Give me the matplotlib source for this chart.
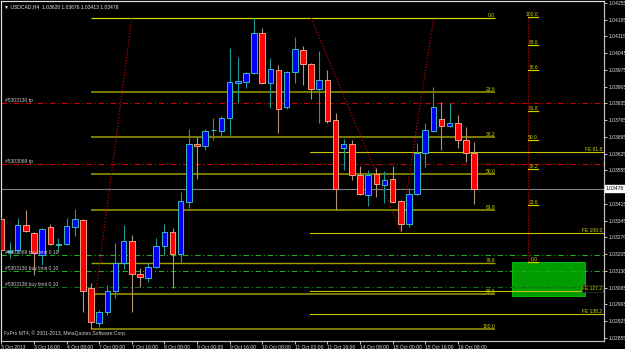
import matplotlib
matplotlib.use("Agg")
import matplotlib.pyplot as plt
from matplotlib.patches import Rectangle

# ---------------- data ----------------
symbol = "USDCAD,H4"
opens = [1.03352, 1.03214, 1.03223, 1.03327, 1.03294, 1.03202, 1.03319, 1.03245, 1.03248, 1.03319,
         1.03348, 1.03064, 1.02917, 1.02963, 1.03051, 1.03168, 1.03260, 1.03122, 1.03105, 1.03151,
         1.03239, 1.03298, 1.03206, 1.03423, 1.03666, 1.03657, 1.03722, 1.03720, 1.03774, 1.03921,
         1.03925, 1.03962, 1.04130, 1.03921, 1.03975, 1.03820, 1.03967, 1.04059, 1.04000, 1.03896,
         1.03933, 1.03766, 1.03649, 1.03666, 1.03536, 1.03452, 1.03540, 1.03494, 1.03519, 1.03427,
         1.03331, 1.03457, 1.03628, 1.03720, 1.03770, 1.03741, 1.03753, 1.03682, 1.03628]
highs = [1.03360, 1.03256, 1.03356, 1.03390, 1.03298, 1.03315, 1.03331, 1.03273, 1.03356, 1.03394,
         1.03352, 1.03085, 1.02972, 1.03076, 1.03252, 1.03327, 1.03285, 1.03147, 1.03168, 1.03273,
         1.03331, 1.03315, 1.03465, 1.03728, 1.03695, 1.03728, 1.03774, 1.03783, 1.04067, 1.04029,
         1.03967, 1.04191, 1.04150, 1.04025, 1.03996, 1.03971, 1.04113, 1.04075, 1.04004, 1.04054,
         1.03975, 1.03795, 1.03686, 1.03682, 1.03574, 1.03557, 1.03565, 1.03553, 1.03574, 1.03432,
         1.03482, 1.03670, 1.03753, 1.03904, 1.03841, 1.03837, 1.03787, 1.03737, 1.03676]
lows = [1.03214, 1.03189, 1.03210, 1.03298, 1.03118, 1.03160, 1.03243, 1.03214, 1.03243, 1.03281,
        1.02963, 1.02892, 1.02901, 1.02951, 1.03022, 1.03143, 1.02963, 1.03068, 1.03089, 1.03147,
        1.03202, 1.03064, 1.03168, 1.03398, 1.03519, 1.03641, 1.03682, 1.03695, 1.03703, 1.03837,
        1.03900, 1.03958, 1.03916, 1.03816, 1.03712, 1.03812, 1.03921, 1.03912, 1.03854, 1.03753,
        1.03753, 1.03390, 1.03557, 1.03515, 1.03452, 1.03406, 1.03444, 1.03419, 1.03419, 1.03302,
        1.03319, 1.03452, 1.03569, 1.03716, 1.03641, 1.03737, 1.03649, 1.03590, 1.03413]
closes = [1.03223, 1.03218, 1.03327, 1.03302, 1.03210, 1.03310, 1.03248, 1.03248, 1.03323, 1.03352,
          1.03051, 1.02922, 1.02963, 1.03051, 1.03168, 1.03260, 1.03122, 1.03110, 1.03151, 1.03239,
          1.03298, 1.03206, 1.03427, 1.03666, 1.03657, 1.03720, 1.03724, 1.03774, 1.03925, 1.03929,
          1.03962, 1.04130, 1.03921, 1.03979, 1.03812, 1.03967, 1.04063, 1.04000, 1.03896, 1.03933,
          1.03762, 1.03478, 1.03666, 1.03536, 1.03457, 1.03536, 1.03498, 1.03515, 1.03423, 1.03331,
          1.03457, 1.03628, 1.03724, 1.03820, 1.03741, 1.03753, 1.03682, 1.03628, 1.03478]

xtick_bars = [0, 4, 8, 12, 16, 20, 24, 28, 32, 36, 40, 44, 48, 52, 56]
xtick_labels = ["3 Oct 2013", "3 Oct 16:00", "4 Oct 08:00", "7 Oct 00:00", "7 Oct 16:00",
                "8 Oct 08:00", "9 Oct 00:00", "9 Oct 16:00", "10 Oct 08:00", "11 Oct 00:00",
                "11 Oct 16:00", "14 Oct 08:00", "15 Oct 00:00", "15 Oct 16:00", "16 Oct 08:00"]
ytick_prices = [1.04255, 1.04185, 1.04115, 1.04045, 1.03975, 1.03905, 1.03835, 1.03765,
                1.03695, 1.03625, 1.03555, 1.03415, 1.03345, 1.03276, 1.03205, 1.03136,
                1.03065, 1.02995, 1.02925, 1.02855]
bid = 1.03478

# Fibonacci retracement
fib_low, fib_high = 1.02892, 1.04191
fib_levels = [0.0, 23.6, 38.2, 50.0, 61.8, 78.6, 88.6, 100.0]
fib_bars = [11, 16]
# Fibonacci expansion (A, B, C)
fe_prices = [1.04192, 1.03302, 1.04184]
fe_bars = [38, 49, 53]
fe_levels = [61.8, 100.0, 127.2, 138.2]
# vertical fibonacci
vfib_zero, vfib_hundred = 1.03171, 1.04195
# order lines
tp_prices = [1.03835, 1.03582]
tp_labels = ["#5303130 tp", "#5303069 tp"]
limit_prices = [1.03200, 1.03134, 1.03069]
limit_labels = ["#5301069 buy limit 0.10", "#5303130 buy limit 0.10", "#5303138 buy limit 0.10"]
zone_low, zone_high = 1.03030, 1.03172

# ---------------- figure ----------------
W, H = 625, 349
fig = plt.figure(figsize=(W / 100, H / 100), dpi=100, facecolor="black")
ax = fig.add_axes([1 / W, 8 / H, 603 / W, 340 / H], facecolor="black")
ax.set_xlim(-0.049, 73.94)
ax.set_ylim(1.028421, 1.042633)

FONT = ["Liberation Sans", "DejaVu Sans"]
FS = 3.6
px = 0.72  # one pixel in points

# zone rectangle
ax.add_patch(Rectangle((62.65, zone_low), 71.6 - 62.65, zone_high - zone_low,
                       facecolor="#009c00", edgecolor="#00b800", lw=px, zorder=1))

# order lines
dashdot = (0, (5, 2.5, 1, 2.5))
for p, lab in zip(tp_prices, tp_labels):
    ax.axhline(p, color="#c80000", lw=px * 1.1, ls=dashdot, zorder=2)
    ax.text(4 / 603, p, lab, transform=ax.get_yaxis_transform(), color="#c8c8c8",
            fontsize=FS, family=FONT, va="bottom", ha="left", zorder=6)
limit_colors = ["#22aa22", "#22aa22", "#137013"]
for p, lab, c in zip(limit_prices, limit_labels, limit_colors):
    ax.axhline(p, color=c, lw=px * 1.1, ls=dashdot, zorder=2)
    ax.text(4 / 603, p, lab, transform=ax.get_yaxis_transform(), color="#c8c8c8",
            fontsize=FS, family=FONT, va="bottom", ha="left", zorder=6)

# bid line
ax.axhline(bid, color="#80808a", lw=px * 1.1, zorder=2)

# fib retracement
fib_end = 60.6
for lv in fib_levels:
    p = fib_high - (fib_high - fib_low) * lv / 100
    if lv == 0.0:
        col, lw = "#d4d400", px * 1.2
    elif lv == 78.6:
        col, lw = "#a4a400", px * 1.4
    else:
        col, lw = "#808000", px * 1.9
    ax.plot([fib_bars[0], fib_end], [p, p], color=col, lw=lw, zorder=2, solid_capstyle="butt")
    ax.text(fib_end, p, f"{lv:.1f}", color="#d0d000", fontsize=FS, family=FONT,
            ha="right", va="bottom", zorder=6)
ax.plot(fib_bars, [fib_low, fib_high], color="#c80000", lw=px * 1.2, ls=(0, (1, 1.5)), zorder=2)

# fib expansion
A, B, C = fe_prices
for lv in fe_levels:
    p = C - (A - B) * lv / 100
    ax.plot([fe_bars[0] - 0.1, 73.94], [p, p], color="#c4c400", lw=px * 1.1, zorder=2)
    bb = dict(facecolor="black", edgecolor="#404040", pad=0.6, lw=0.4) if lv == 127.2 else None
    ax.text(1 - 1.5 / 603, p, f"FE {lv:.1f}", transform=ax.get_yaxis_transform(),
            color="#d8d800", fontsize=FS, family=FONT, ha="right", va="bottom", zorder=6, bbox=bb)
ax.plot(fe_bars, fe_prices, color="#c80000", lw=px * 1.2, ls=(0, (1, 1.5)), zorder=2)

# vertical fib
vx0, vx1 = 64.6, 65.85
ax.plot([vx0, vx0], [vfib_zero, vfib_hundred], color="#c80000", lw=px * 1.2, ls=(0, (1, 1.5)), zorder=2)
for lv in fib_levels:
    p = vfib_zero + (vfib_hundred - vfib_zero) * lv / 100
    ax.plot([vx0, vx1], [p, p], color="#d4d400", lw=px * 1.2, zorder=3)
    ax.text(vx1, p, f"{lv:.1f}", color="#d0d000", fontsize=FS, family=FONT,
            ha="right", va="bottom", zorder=6)

# candles
xs = list(range(len(opens)))
for i in xs:
    o, h, l, c = opens[i], highs[i], lows[i], closes[i]
    up = c >= o
    wick = "#1c9a94" if up else "#b39676"
    ax.vlines(i, l, h, color=wick, lw=px * 1.1, zorder=4)
    body_lo, body_h = min(o, c), max(abs(c - o), 0.000012)
    ax.bar(i, body_h, bottom=body_lo, width=0.68,
           color="#0000ff" if up else "#ff0000",
           edgecolor="#3cc8c0" if up else "#f0b090", lw=px * 0.9, zorder=5)

# axes styling
for s in ["left", "top"]:
    ax.spines[s].set_color("#e0e0e0")
    ax.spines[s].set_linewidth(px * 1.2)
for s in ["right", "bottom"]:
    ax.spines[s].set_color("#c0c0c0")
    ax.spines[s].set_linewidth(px * 1.2)

ax.yaxis.tick_right()
ax.set_yticks(ytick_prices)
ax.set_yticklabels([f"{p:.5f}" for p in ytick_prices])
ax.set_xticks(xtick_bars)
ax.set_xticklabels(xtick_labels)
ax.tick_params(axis="both", colors="#c0c0c0", direction="out", length=2, width=px,
               labelsize=FS, labelcolor="#e0e0e0", pad=1)
for t in ax.get_xticklabels():
    t.set_ha("left")
    t.set_family(FONT)
for t in ax.get_yticklabels():
    t.set_family(FONT)

# current price box
ax.text(1.003, bid, f"{bid:.5f}", transform=ax.get_yaxis_transform(), color="black",
        fontsize=FS, family=FONT, ha="left", va="center", zorder=7,
        bbox=dict(facecolor="white", edgecolor="white", pad=0.8))

# header and copyright
ax.text(3 / 603, 1 - 6 / 340, "\u25bc " + symbol + "  1.03628 1.03676 1.03413 1.03478",
        transform=ax.transAxes, color="#e8e8e8", fontsize=FS, family=FONT,
        ha="left", va="center", zorder=7)
ax.text(3 / 603, 8 / 340, "FxPro MT4, \u00a9 2001-2013, MetaQuotes Software Corp.",
        transform=ax.transAxes, color="#d0d0d0", fontsize=FS, family=FONT,
        ha="left", va="center", zorder=7)

fig.savefig("out.png", dpi=100, facecolor="black")
